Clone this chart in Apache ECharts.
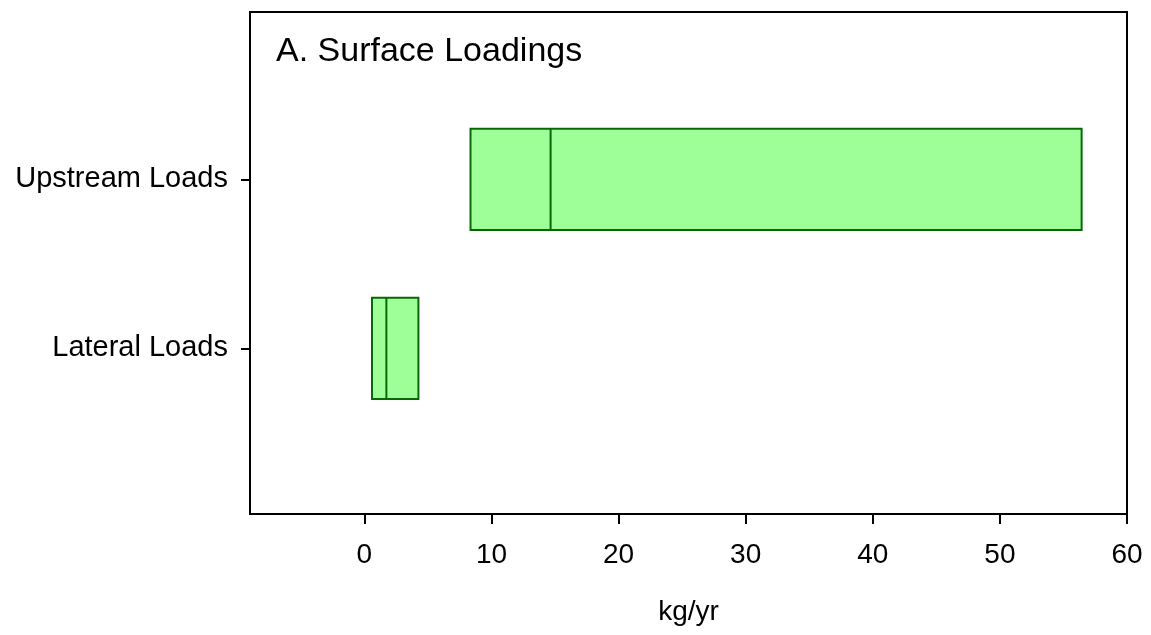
<!DOCTYPE html>
<html>
<head>
<meta charset="utf-8">
<script src="https://cdn.jsdelivr.net/npm/echarts@6/dist/echarts.min.js"></script>
<style>
  html, body { margin: 0; padding: 0; background: #fff; }
  #chart { width: 1151px; height: 635px; }
</style>
</head>
<body>
<div id="chart"></div>
<script>
// Loading ranges (kg/yr) per source: lower quartile, median, upper quartile
const categories = ['Lateral Loads', 'Upstream Loads'];
const positions = [1, 2];
const lowerValues = [0.6, 8.35];
const medianValues = [1.73, 14.65];
const upperValues = [4.25, 56.43];
const xTickValues = [0, 10, 20, 30, 40, 50, 60];

const FONT = '"Liberation Sans", Arial, sans-serif';
const boxData = positions.map((p, i) => [p, lowerValues[i], medianValues[i], upperValues[i]]);

const chart = echarts.init(document.getElementById('chart'), null, { renderer: 'canvas' });

chart.setOption({
  animation: false,
  backgroundColor: '#ffffff',
  grid: {
    left: 250, right: 24, top: 12, bottom: 121,
    show: true, borderColor: '#000', borderWidth: 2, backgroundColor: 'transparent'
  },
  graphic: [{
    type: 'text', left: 276, top: 35,
    style: { text: 'A. Surface Loadings', font: '34px ' + FONT, fill: '#000' }
  }],
  xAxis: {
    type: 'value', min: -9, max: 60,
    name: 'kg/yr', nameLocation: 'middle', nameGap: 84,
    nameTextStyle: { fontFamily: FONT, fontSize: 28, color: '#000' },
    axisLine: { show: true, onZero: false, lineStyle: { color: '#000', width: 2 } },
    axisTick: { show: true, length: 10, customValues: xTickValues, lineStyle: { color: '#000', width: 2 } },
    axisLabel: { customValues: xTickValues, margin: 27, fontFamily: FONT, fontSize: 28, color: '#000' },
    splitLine: { show: false }
  },
  yAxis: {
    type: 'value', min: 0.02, max: 2.99,
    axisLine: { show: true, onZero: false, lineStyle: { color: '#000', width: 2 } },
    axisTick: { show: true, length: 9, customValues: positions, lineStyle: { color: '#000', width: 2 } },
    axisLabel: {
      customValues: positions, margin: 22, fontFamily: FONT, fontSize: 29, color: '#000',
      formatter: v => categories[positions.indexOf(v)] || ''
    },
    splitLine: { show: false }
  },
  series: [{
    type: 'custom',
    data: boxData,
    encode: { x: [1, 2, 3], y: 0 },
    renderItem: function (params, api) {
      const y = api.value(0);
      const pLo = api.coord([api.value(1), y]);
      const pMed = api.coord([api.value(2), y]);
      const pHi = api.coord([api.value(3), y]);
      const h = api.size([0, 0.6])[1];
      return {
        type: 'group',
        children: [
          { type: 'rect', shape: { x: pLo[0], y: pLo[1] - h / 2, width: pHi[0] - pLo[0], height: h },
            style: { fill: '#9eff98', stroke: '#086808', lineWidth: 2 } },
          { type: 'line', shape: { x1: pMed[0], y1: pMed[1] - h / 2, x2: pMed[0], y2: pMed[1] + h / 2 },
            style: { stroke: '#086808', lineWidth: 2 } }
        ]
      };
    }
  }]
});
</script>
</body>
</html>
